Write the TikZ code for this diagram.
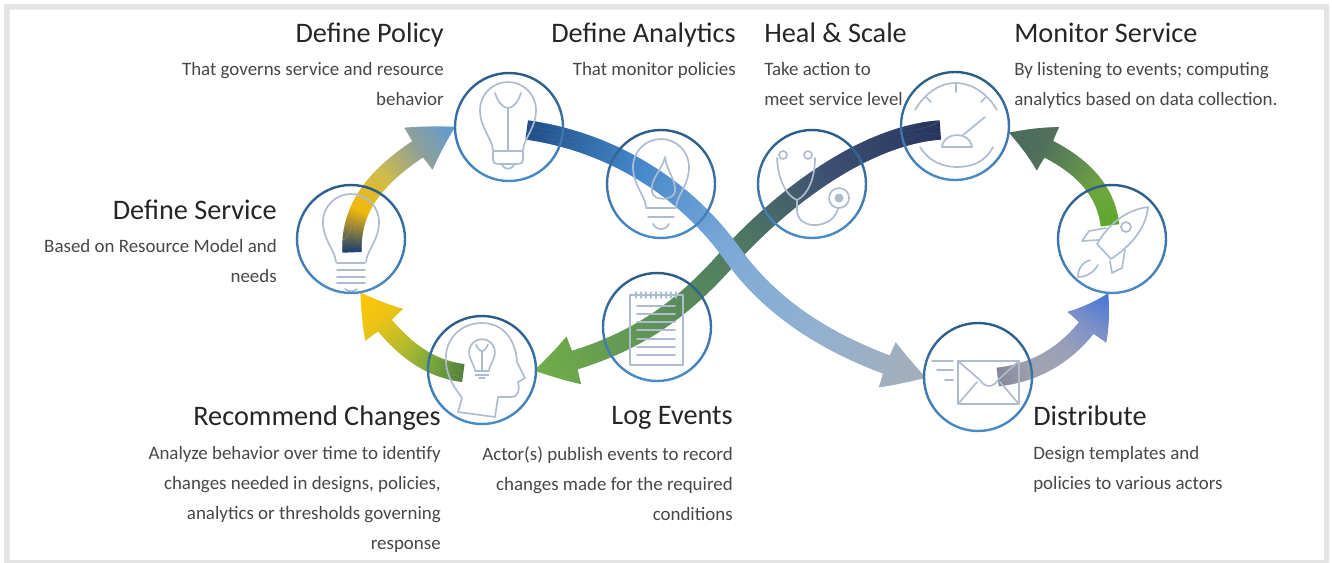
\documentclass[tikz,border=0pt]{standalone}
\usepackage{fontspec}
\setmainfont{Carlito}
\usetikzlibrary{decorations.markings}
\definecolor{frame}{HTML}{E4E4E4}
\definecolor{iconc}{HTML}{AEBCD0}
\definecolor{titlec}{HTML}{262626}
\definecolor{bodyc}{HTML}{474747}
\definecolor{ringtop}{HTML}{2B5B88}
\definecolor{ringbot}{HTML}{4A8CC8}
\newcommand{\setstops}[5]{\definecolor{cA}{HTML}{#1}\definecolor{cB}{HTML}{#2}\definecolor{cC}{HTML}{#3}\definecolor{cD}{HTML}{#4}\definecolor{cE}{HTML}{#5}}
\newcommand{\flowslice}[3]{%
  \pgfkeysgetvalue{/pgf/decoration/mark info/distance from start}{\ds}%
  \pgfmathsetmacro\tot{\pgfdecoratedpathlength}%
  \pgfmathsetmacro\hs{\tot-#3}%
  \pgfmathsetmacro\ha{(\ds<\hs ? #1 : #2*max(\tot-\ds,0)/#3)/2}%
  \pgfmathsetmacro\hb{((\ds+0.75)<\hs ? #1 : #2*max(\tot-\ds-0.75,0)/#3)/2}%
  \pgfmathsetmacro\q{4*\ds/\tot}%
  \pgfmathtruncatemacro\seg{min(int(\q),3)}%
  \pgfmathsetmacro\m{max(min(100*(\seg+1-\q),100),0)}%
  \ifcase\seg\colorlet{sl}{cA!\m!cB}\or\colorlet{sl}{cB!\m!cC}\or\colorlet{sl}{cC!\m!cD}\or\colorlet{sl}{cD!\m!cE}\fi
  \fill[sl] (-0.25pt,\ha pt) -- (0.8pt,\hb pt) -- (0.8pt,-\hb pt) -- (-0.25pt,-\ha pt) -- cycle;%
}
\tikzset{
  flow/.style n args={3}{decoration={markings,mark=between positions 0 and 1 step 0.75pt with {\flowslice{#1}{#2}{#3}}},postaction=decorate},
  ring/.style={circle,minimum size=81pt,inner sep=0pt},
  ringline/.style={top color=ringtop,bottom color=ringbot,even odd rule},
  icon/.style={draw=iconc,line width=1.25pt,line cap=round,line join=round},
  titleR/.style={anchor=north east,inner sep=0pt,text=titlec,font=\fontsize{21.2}{24}\selectfont},
  titleL/.style={anchor=north west,inner sep=0pt,text=titlec,font=\fontsize{21.2}{24}\selectfont},
  bodyR/.style={anchor=north east,inner sep=0pt,align=right,text=bodyc,font=\fontsize{14.2}{22.5}\selectfont},
  bodyL/.style={anchor=north west,inner sep=0pt,align=left,text=bodyc,font=\fontsize{14.2}{22.5}\selectfont},
}
\newcommand{\bulbshape}{%
  \draw[icon] (-15,40) .. controls (-16,28) and (-28,18) .. (-28,0) .. controls (-28,-16) and (-15,-28) .. (0,-28) .. controls (15,-28) and (28,-16) .. (28,0) .. controls (28,18) and (16,28) .. (15,40);
}
\begin{document}
\begin{tikzpicture}[x=0.75pt,y=-0.75pt]
\useasboundingbox (0,0) rectangle (1332,562);
\fill[white] (0,0) rectangle (1332,562);
\fill[frame,even odd rule] (4,4) rectangle (1329,566) (9.5,9.5) rectangle (1324,560);

\path
 (351,239) node[ring] (service) {}
 (509,127) node[ring] (policy) {}
 (661,184) node[ring] (analytics) {}
 (812,184) node[ring] (heal) {}
 (955,126) node[ring] (monitor) {}
 (1112,239) node[ring] (rocket) {}
 (978,377) node[ring] (distribute) {}
 (657,327) node[ring] (logev) {}
 (482,370) node[ring] (recommend) {};

\coordinate (sA) at (352,252);
\coordinate (sB) at (527,130);
\coordinate (sC) at (940,130);
\coordinate (sD) at (463,373);
\coordinate (sE) at (1110,225);
\coordinate (sF) at (998,377);

% Monitor -> Log
\setstops{27355C}{3C4E72}{4F7A60}{5F9355}{70AD47}
\path[flow={14.5}{38}{31}] (sC) .. controls (870,135) and (790,190) .. (728,258) .. controls (680,312) and (630,350) .. (recommend.0);
% Policy -> Distribute
\setstops{1F4E85}{4488CC}{7CAAD8}{92B0D0}{A5AEB8}
\path[flow={14.5}{37}{31}] (sB) .. controls (600,140) and (680,180) .. (733,255) .. controls (780,320) and (850,355) .. (distribute.180);
% Service -> Policy
\setstops{1F3F6F}{F2B90C}{CDBB4C}{8F9F98}{5B9BD5}
\path[flow={14.5}{38}{32}] (sA) .. controls (350,200) and (385,165) .. (policy.180);
% Recommend -> Service
\setstops{55803F}{7AA83C}{B8BB2A}{ECC315}{FFC800}
\path[flow={13.5}{37}{30}] (sD) .. controls (425,368) and (395,345) .. (service.-80);
% Rocket -> Monitor
\setstops{5AA82A}{6FA53E}{5E8A50}{4F6F5A}{4A6A5E}
\path[flow={14}{37}{32}] (sE) .. controls (1105,185) and (1075,155) .. (monitor.-7);
% Distribute -> Rocket
\setstops{86869A}{A0A3AE}{9AA0B8}{7B8FC8}{4472D8}
\path[flow={14}{37}{30}] (sF) .. controls (1040,372) and (1080,350) .. (rocket.-94);

% icons
\begin{scope}[shift={(351,222)}]
  \bulbshape
  \foreach \yy in {41,48,55,61}{\draw[icon] (-14,\yy) -- (14,\yy);}
  \draw[icon] (-6,67) .. controls (-3,70) and (3,70) .. (6,67);
\end{scope}
\begin{scope}[shift={(508,110)}]
  \bulbshape
  \draw[icon] (-13,-17) .. controls (-10,-8) and (-5,-2) .. (0,-2) .. controls (5,-2) and (10,-8) .. (13,-17);
  \draw[icon] (0,-2) -- (0,41);
  \draw[icon] (-15,41) -- (15,41) (-15,41) -- (-15,50) .. controls (-15,53) and (-13,54) .. (-10,54) -- (10,54) .. controls (13,54) and (15,53) .. (15,50) -- (15,41);
  \draw[icon] (-6,55) .. controls (-3,60) and (3,60) .. (6,55);
\end{scope}
\begin{scope}[shift={(661,167)}]
  \bulbshape
  \draw[icon] (4,-10) .. controls (0,5) and (-11,12) .. (-9,25) .. controls (-8,34) and (12,34) .. (14,25) .. controls (15,12) and (6,5) .. (4,-10);
  \draw[icon] (-15,41) -- (15,41) (-13,50) -- (13,50);
  \draw[icon] (-8,57) .. controls (-4,64) and (4,64) .. (8,57);
\end{scope}
% stethoscope
\draw[icon] (783,155) circle (4) (808,155) circle (4);
\draw[icon] (777,158) .. controls (778,178) and (785,195) .. (797,200) .. controls (808,195) and (815,178) .. (815,158);
\draw[icon] (797,200) -- (797,212) .. controls (799,224) and (812,227) .. (822,224) .. controls (832,221) and (836,216) .. (838,208);
\draw[icon] (839,198) circle (10);
\fill[iconc] (839,198) circle (4.5);
% gauge
\draw[icon] (915,110) .. controls (925,93) and (940,83) .. (955,83) .. controls (972,83) and (987,93) .. (997,110);
\draw[icon] (926,97) -- (931,102) (956,83) -- (956,92) (986,97) -- (981,102);
\draw[icon] (920,147) .. controls (930,163) and (945,167) .. (957,167) .. controls (970,167) and (985,163) .. (993,147);
\draw[icon] (963,135) -- (985,117);
\draw[icon] (942,147) -- (972,147) (942,147) .. controls (943,139) and (950,135) .. (957,135) .. controls (964,135) and (971,139) .. (972,147);
% rocket
\draw[icon] (1097,244) .. controls (1108,225) and (1125,210) .. (1148,207) .. controls (1146,228) and (1132,245) .. (1111,259) -- cycle;
\draw[icon] (1106,228) -- (1089,231) -- (1082,241) -- (1098,240);
\draw[icon] (1125,250) -- (1122,268) -- (1112,273) -- (1110,261);
\draw[icon] (1126,227) circle (5);
\draw[icon] (1090,260) .. controls (1083,262) and (1078,268) .. (1078,277) .. controls (1087,277) and (1094,272) .. (1098,265);
% envelope
\draw[icon] (958,361) rectangle (1019,404);
\draw[icon] (958,361) -- (980,380) .. controls (985,388) and (993,388) .. (998,380) -- (1019,361);
\draw[icon] (958,404) -- (977,382) (1019,404) -- (1000,382);
\draw[icon] (932,361) -- (953,361) (937,370) -- (953,370) (945,380) -- (953,380);
% notepad
\draw[icon] (630,295) rectangle (683,365);
\foreach \yy in {306,314,322,330,339,347,355}{\draw[icon] (637,\yy) -- (675,\yy);}
\foreach \xx in {636,641,...,676}{\draw[icon,line width=0.8pt] (\xx,292) -- (\xx,298);}
% head with bulb
\draw[icon] (458,412) -- (462,398) .. controls (455,388) and (447,378) .. (446,362) .. controls (444,340) and (460,323) .. (482,323) .. controls (503,323) and (516,340) .. (517,362) -- (525,378) -- (518,382) .. controls (520,390) and (518,397) .. (512,397) -- (498,397) -- (495,417) -- cycle;
\begin{scope}[shift={(482,352)},scale=0.46]
  \bulbshape
  \draw[icon] (-13,-17) .. controls (-10,-8) and (-5,-2) .. (0,-2) .. controls (5,-2) and (10,-8) .. (13,-17) (0,-2) -- (0,41);
  \draw[icon] (-15,41) -- (15,41) (-14,50) -- (14,50);
  \draw[icon] (-6,56) -- (6,56);
\end{scope}

% rings on top
\foreach \nn in {service,policy,analytics,heal,monitor,rocket,distribute,logev,recommend}{
  \shade[ringline] (\nn) circle (55.2) (\nn) circle (52.8);
}

% texts
\node[titleR] (tPolicy) at (444,23) {Define Policy};
\node[bodyR] (bPolicy) at (444,62) {That governs service and resource\\behavior};
\node[titleR] (tAnalytics) at (736,23) {Define Analytics};
\node[bodyR] (bAnalytics) at (736,62) {That monitor policies};
\node[titleL] (tHeal) at (764,23) {Heal \& Scale};
\node[bodyL] (bHeal) at (764,62) {Take action to\\meet service level};
\node[titleL] (tMonitor) at (1014,23) {Monitor Service};
\node[bodyL] (bMonitor) at (1014,62) {By listening to events; computing\\analytics based on data collection.};
\node[titleR] (tService) at (277,200) {Define Service};
\node[bodyR] (bService) at (277,239) {Based on Resource Model and\\needs};
\node[titleR] (tRecommend) at (441,406) {Recommend Changes};
\node[bodyR] (bRecommend) at (441,446) {Analyze behavior over time to identify\\changes needed in designs, policies,\\analytics or thresholds governing\\response};
\node[titleR] (tLog) at (733,406) {Log Events};
\node[bodyR] (bLog) at (733,446) {Actor(s) publish events to record\\changes made for the required\\conditions};
\node[titleL] (tDistribute) at (1033,406) {Distribute};
\node[bodyL] (bDistribute) at (1033,446) {Design templates and\\policies to various actors};
\end{tikzpicture}
\end{document}
